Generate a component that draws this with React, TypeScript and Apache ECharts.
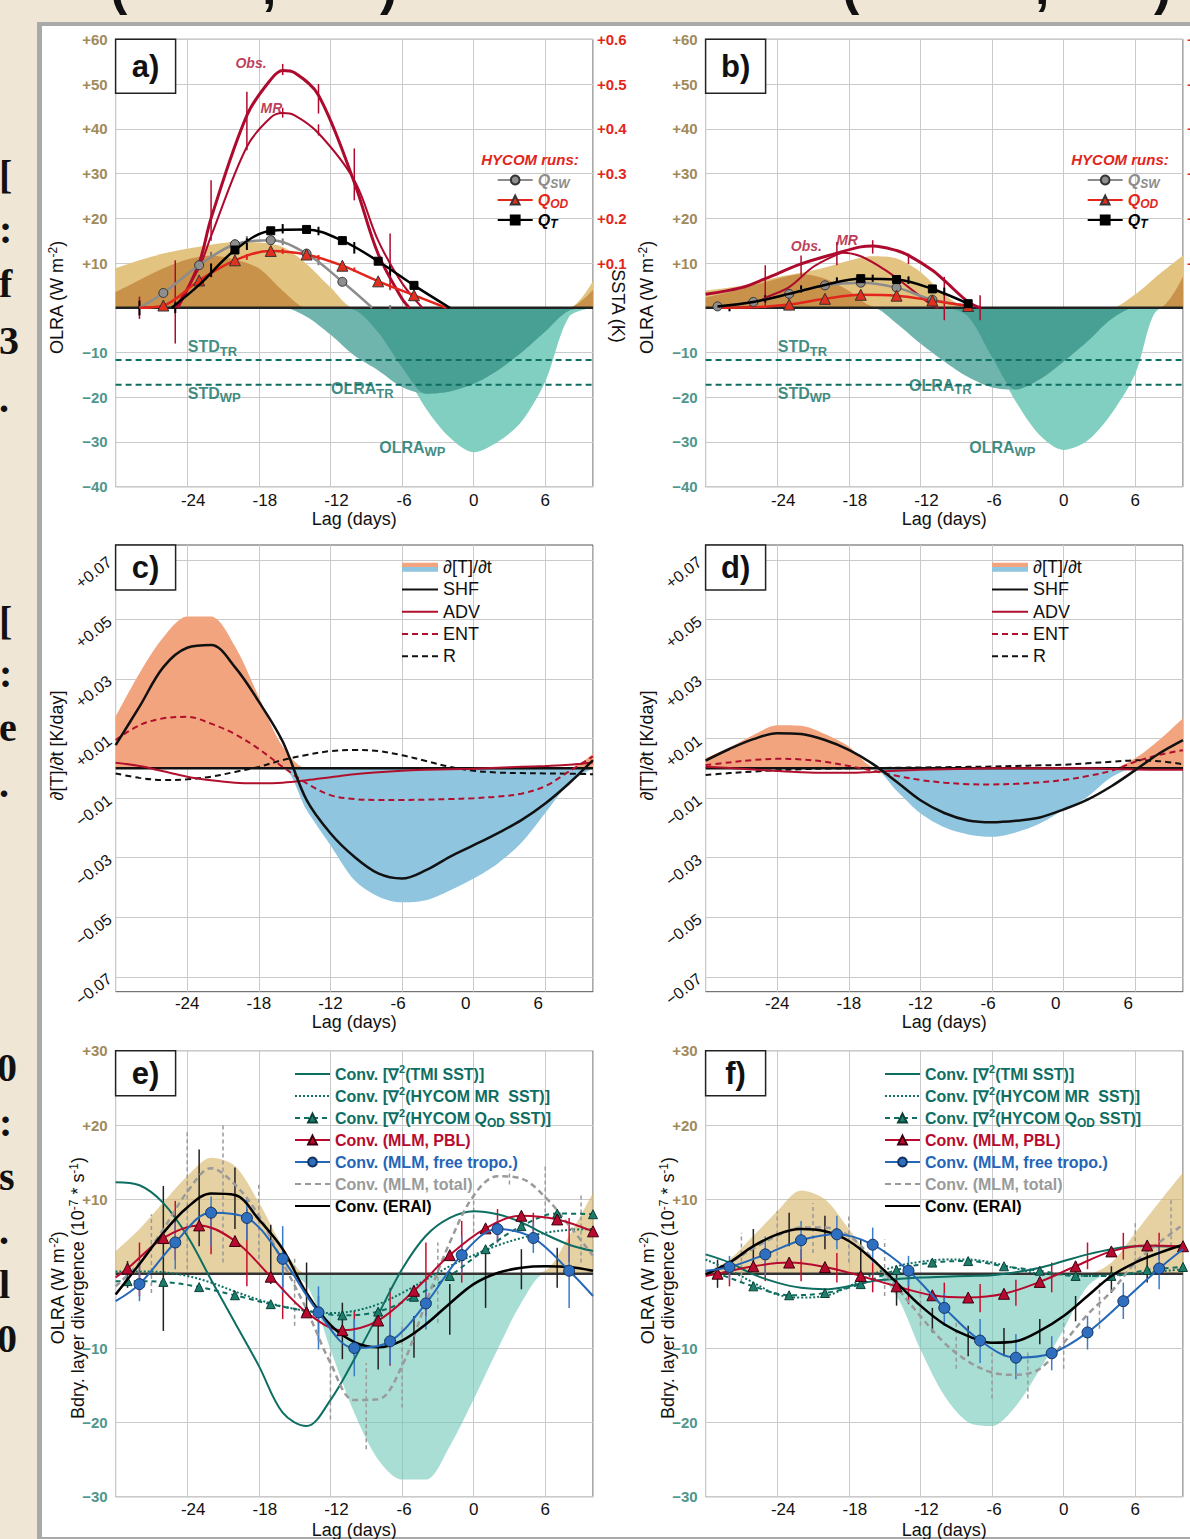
import React, { useEffect, useRef } from "react";
import * as echarts from "echarts";

const FONT = "'Liberation Sans', Arial, Helvetica, sans-serif";

// ---------- lag grids ----------
const LAG2 = [-30, -28, -26, -24, -22, -20, -18, -16, -14, -12, -10, -8, -6, -4, -2, 0, 2, 4, 6, 8, 10];
const QLAG = [-29, -26, -23, -20, -17, -14, -11, -8, -5, -2, 1, 4, 7, 10];
const TLAG = [-28, -25, -22, -19, -16, -13, -10, -7, -4, -1, 2, 5, 8];
const C_TICKS = [-0.07, -0.05, -0.03, -0.01, 0.01, 0.03, 0.05, 0.07];

// ---------- panel a ----------
const A_OLRA_WP = [8.8, 10.6, 12.1, 13.2, 14.1, 14.7, 14.6, 13.6, 9.8, 4.6, -0.5, -5.5, -13.3, -22.5, -29, -32.3, -30, -25.5, -16.5, -2, 6];
const A_OLRA_TR = [3.5, 6.2, 8.8, 10.8, 11.6, 10.8, 8.8, 3.8, -2, -6, -10.7, -14, -17.7, -19.2, -18.7, -17, -14, -10, -5.3, -0.6, 4];
const STD_LEVELS = [-11.7, -17.2];
const A_OBS = [[-24.8, 0], [-23, 0.1], [-22, 0.2], [-19, 0.43], [-17, 0.51], [-16, 0.53], [-15, 0.525], [-13, 0.475], [-10, 0.28], [-8, 0.12], [-6, 0.02], [-5.4, 0]];
const A_MR = [[-25, 0], [-23, 0.09], [-22, 0.16], [-19, 0.36], [-17, 0.425], [-16, 0.435], [-15, 0.43], [-13, 0.39], [-10, 0.285], [-8, 0.15], [-6, 0.055], [-4.3, 0]];
const A_QSW = [[-28, 0], [-26, 0.033], [-23, 0.095], [-20, 0.142], [-17, 0.151], [-14, 0.121], [-11, 0.058], [-8.5, 0]];
const A_QOD = [[-28, 0], [-26, 0.005], [-23, 0.061], [-20, 0.106], [-17, 0.127], [-14, 0.119], [-11, 0.094], [-8, 0.059], [-5, 0.028], [-2.3, 0]];
const A_QT = [[-25.3, 0], [-23, 0.051], [-20, 0.129], [-17, 0.172], [-14, 0.175], [-11, 0.15], [-8, 0.104], [-5, 0.05], [-2, 0]];
const A_ERR_OBS = [[-28, -0.025, 0.025], [-25, -0.08, 0.106], [-22, 0.15, 0.285], [-19, 0.352, 0.483], [-16, 0.52, 0.545], [-16, 0.425, 0.447], [-13, 0.434, 0.5], [-13, 0.385, 0.41], [-10, 0.24, 0.356], [-7, 0.039, 0.166]];
const A_ERR_QT = [[-28, -0.017, 0.016], [-25, -0.012, 0.012], [-22, 0.069, 0.099], [-19, 0.129, 0.155], [-16, 0.166, 0.187], [-13, 0.162, 0.181], [-10, 0.121, 0.147], [-7, 0.069, 0.099]];
const A_ERR_QOD = [[-22, 0.068, 0.082], [-19, 0.107, 0.12], [-16, 0.12, 0.132], [-13, 0.107, 0.118], [-10, 0.08, 0.09], [-7, 0.042, 0.056]];
const A_ERR_QSW = [[-22, 0.11, 0.125], [-19, 0.145, 0.16], [-16, 0.14, 0.155], [-13, 0.095, 0.11], [-7, -0.006, 0.006]];

// ---------- panel b ----------
const B_OLRA_WP = [3.8, 4.5, 5.5, 6.8, 7.8, 9, 10.5, 11.5, 11, 8, 3, -2, -11, -21, -28.5, -31.8, -29.7, -23.7, -14.8, -0.3, 7];
const B_OLRA_TR = [2.3, 3.5, 5, 6.5, 7.5, 6.5, 3.8, 0.3, -3.5, -8, -12, -15.5, -17.8, -18.3, -16, -12, -7.5, -2.5, 3, 7.5, 11.7];
const B_OBS = [[-30, 0.03], [-27, 0.045], [-25, 0.065], [-22, 0.098], [-19, 0.122], [-17, 0.136], [-16, 0.138], [-14, 0.128], [-13, 0.117], [-11, 0.084], [-10, 0.061], [-8, 0.013], [-7, 0]];
const B_MR = [[-26.5, 0], [-25, 0.022], [-23, 0.046], [-21, 0.091], [-19, 0.119], [-18.5, 0.123], [-17, 0.115], [-15, 0.085], [-13, 0.046], [-11, 0.005], [-10.5, 0]];
const B_QSW = [[-29, 0.003], [-26, 0.013], [-23, 0.031], [-20, 0.05], [-17, 0.056], [-14, 0.045], [-11, 0.018], [-8, 0.005]];
const B_QOD = [[-29, 0], [-26, 0.001], [-23, 0.007], [-20, 0.02], [-17, 0.029], [-14, 0.027], [-11, 0.016], [-8, 0.004]];
const B_QT = [[-29, 0.003], [-26, 0.013], [-23, 0.031], [-20, 0.051], [-17, 0.065], [-14, 0.063], [-11, 0.042], [-8, 0.009]];
const B_ERR_OBS = [[-25, -0.002, 0.095], [-22, 0.072, 0.117], [-19, 0.095, 0.147], [-16, 0.121, 0.151], [-13, 0.098, 0.121], [-10, -0.028, 0.069], [-7, -0.028, 0.028]];
const B_ERR_QT = [[-28, -0.008, 0.008], [-25, 0.012, 0.028], [-22, 0.034, 0.05], [-19, 0.052, 0.068], [-16, 0.058, 0.074], [-13, 0.053, 0.07], [-10, 0.028, 0.045]];

// ---------- panel c ----------
const C_DTDT = [0.0173, 0.0319, 0.044, 0.051, 0.051, 0.041, 0.024, 0.0073, -0.014, -0.0258, -0.0375, -0.043, -0.045, -0.0443, -0.041, -0.037, -0.032, -0.025, -0.015, -0.005, 0.005];
const C_SHF = [0.0078, 0.0207, 0.034, 0.0405, 0.0414, 0.034, 0.0224, 0.009, -0.0106, -0.0218, -0.0297, -0.0353, -0.037, -0.0342, -0.0297, -0.0258, -0.0218, -0.0174, -0.0118, -0.005, 0.0028];
const C_ADV = [0.0019, 0.0008, -0.001, -0.0028, -0.004, -0.0048, -0.005, -0.0048, -0.004, -0.003, -0.002, -0.0013, -0.0008, -0.0005, -0.0003, -0.0001, 0.0002, 0.0005, 0.0008, 0.0012, 0.002];
const C_ENT = [0.0095, 0.0145, 0.0168, 0.0173, 0.015, 0.0115, 0.0065, 0.0005, -0.005, -0.009, -0.0103, -0.0106, -0.0106, -0.0105, -0.0103, -0.01, -0.0095, -0.0085, -0.006, -0.001, 0.004];
const C_R = [-0.0017, -0.0032, -0.0039, -0.0037, -0.0028, -0.0012, 0.0005, 0.0028, 0.0045, 0.0058, 0.0062, 0.0058, 0.0044, 0.0025, 0.0005, -0.0008, -0.0014, -0.0016, -0.0017, -0.0018, -0.002];

// ---------- panel d ----------
const D_DTDT = [0.0034, 0.007, 0.0112, 0.0145, 0.0143, 0.0115, 0.0073, 0.0005, -0.0075, -0.0151, -0.0198, -0.0222, -0.023, -0.0215, -0.0185, -0.014, -0.0095, -0.003, 0.0034, 0.0095, 0.0168];
const D_SHF = [0.0026, 0.0065, 0.0098, 0.0118, 0.0115, 0.0095, 0.0062, 0.0015, -0.0045, -0.0107, -0.015, -0.0175, -0.0181, -0.0176, -0.0165, -0.0138, -0.0105, -0.006, -0.0006, 0.005, 0.0095];
const D_ADV = [0.0005, 0.0001, -0.0004, -0.0009, -0.0013, -0.0015, -0.0015, -0.0012, -0.0008, -0.0005, -0.0003, -0.0001, 0, 0, 0, 0, 0, -0.0002, -0.0004, -0.0005, -0.0005];
const D_ENT = [0.0011, 0.002, 0.0028, 0.0032, 0.003, 0.0022, 0.0008, -0.0008, -0.0025, -0.0039, -0.0048, -0.0053, -0.0054, -0.0052, -0.0047, -0.0039, -0.0026, -0.0008, 0.0022, 0.0045, 0.0061];
const D_R = [-0.0022, -0.0016, -0.0011, -0.0006, -0.0003, -0.0001, 0, 0.0001, 0.0002, 0.0003, 0.0004, 0.0005, 0.0006, 0.0008, 0.001, 0.0012, 0.0017, 0.0022, 0.0027, 0.0024, 0.0014];

// ---------- panel e ----------
const E_OLRA = [3.0, 6.0, 9.6, 13.1, 15.6, 14.5, 9.6, 3.7, -1.5, -10.2, -18.7, -25, -27.7, -27.7, -23.2, -16.9, -10.2, -3.9, 0.4, 5.1, 10.9];
const E_TMI = [12.3, 11.9, 9.5, 5.1, -0.8, -6.6, -12.4, -18.7, -20.5, -17.0, -11.5, -5.5, 0.6, 5.1, 7.5, 8.4, 8.0, 6.9, 5.3, 3.9, 3.05];
const E_MR = [0.3, 0.3, 0.2, -0.3, -1.2, -2.4, -3.5, -4.4, -5.0, -5.3, -5.0, -4.1, -2.6, -0.8, 1.0, 2.5, 3.8, 4.8, 5.5, 5.9, 6.0];
const E_QOD = [-1.0, -1.1, -1.8, -2.9, -4.1, -5.0, -5.6, -5.1, -3.1, -0.3, 3.3, 6.4, 8.1, 8.0];
const E_PBL = [0.7, 4.8, 6.5, 4.4, -0.4, -5.2, -7.6, -6.3, -2.3, 2.5, 6.1, 7.8, 7.3, 5.7];
const E_FT = [-1.4, 4.2, 8.2, 7.5, 2.0, -5.2, -10.0, -9.1, -4.0, 2.5, 6.0, 4.8, 0.4];
const E_TOT = [-1.7, 1.5, 6, 11, 14.2, 12, 7.8, 1.5, -4.8, -12, -17, -16.9, -12.4, -3.9, 4.2, 10.5, 13.1, 12.8, 10.3, 6.5, 2.4];
const E_ERAI = [-2.8, 1.3, 5.5, 8.9, 10.8, 10.6, 7.3, 3.3, -2.6, -6.9, -9.2, -9.9, -9.0, -6.8, -4.0, -1.4, 0.1, 0.8, 1.0, 0.9, 0.4];
const E_QOD_START = [-30, -1.0];
const E_PBL_START = [-30, -0.5];
const E_FT_ENDS = [[-30, -3.7], [10, -3.0]];
const E_ERR_ERAI = [[-29, -1.9, 1.7], [-26, -7.7, 11.8], [-23, 3.7, 16.7], [-20, 6.0, 14.3], [-17, -1.4, 6.6], [-14, -5.2, 1.5], [-11, -11.5, -3.9], [-8, -12.9, -5.2], [-5, -11.3, -5.7], [-2, -8.2, -1.4], [1, -4.6, 3.3], [4, -2.1, 3.3], [7, -1.9, 3.5]];
const E_ERR_FT = [[-28, -3.7, 1.5], [-25, 0.6, 6.9], [-22, 3.7, 10.4], [-19, 4.5, 10.0], [-16, -2.6, 6.4], [-13, -10.2, -1.7], [-10, -13.8, -6.1], [-7, -12.2, -5.9], [-4, -7.5, -1.2], [-1, 0.1, 5.1], [2, 4.2, 7.3], [5, 2.8, 6.9], [8, -4.6, 3.7]];
const E_ERR_PBL = [[-28, -3.0, 4.2], [-25, 1.9, 9.8], [-22, 2.6, 9.1], [-19, -1.7, 8.7], [-16, -6.1, 1.9], [-13, -9.0, -3.0], [-10, -11.0, -5.0], [-7, -12.4, -1.9], [-4, -5.7, 4.2], [-1, -1.2, 7.1], [2, 4.2, 8.7], [5, 4.2, 8.2], [8, 1.5, 7.5]];
const E_ERR_TOT = [[-27, -2.6, 8.0], [-24, 0.6, 19.4], [-21, 1.5, 20.1], [-18, 2.0, 12.0], [-15, -7.0, 2.0], [-12, -19.6, -10.2], [-9, -23.6, -12.0], [-6, -18.0, -6.6], [-3, -6.6, 4.2], [0, 5.5, 10.5], [3, 12.0, 14.0], [6, 7.3, 14.7], [9, 1.5, 10.9]];

// ---------- panel f ----------
const F_OLRA = [0, 1.9, 5.1, 8.4, 11.2, 10, 6, 1.9, -3, -10.2, -16.4, -20, -20.5, -17.8, -12.9, -7.5, -1.7, 1.5, 5.5, 9.6, 13.6];
const F_TMI = [2.6, 1.5, -0.1, -1.2, -1.9, -2.1, -1.7, -1.0, -0.7, -0.5, -0.4, -0.3, -0.2, 0.2, 0.8, 1.7, 2.6, 3.3, 3.7, 3.7, 3.5];
const F_MR = [1.9, 0.5, -1.2, -2.8, -3.2, -3.0, -1.7, -0.1, 1.0, 1.6, 1.9, 1.9, 1.5, 0.7, 0.0, -0.1, -0.3, -0.2, 0.0, 0.3, 0.6];
const F_QOD = [0, -1.7, -2.9, -2.6, -1.4, 0.5, 1.5, 1.7, 1.0, 0.4, -0.3, -0.3, 0.5, 0.9];
const F_PBL = [0, 1.0, 1.5, 0.9, -0.3, -1.7, -2.9, -3.2, -2.7, -1.1, 1.0, 3.0, 3.8, 3.7];
const F_FT = [0.9, 2.6, 4.5, 5.3, 3.9, 0.4, -4.6, -9.0, -11.3, -10.7, -7.9, -3.7, 0.7];
const F_TOT = [0.1, 1.5, 3.4, 5.1, 6.2, 6.2, 5.1, 2.0, -1.8, -5.7, -9.3, -11.8, -13.3, -13.6, -12.8, -9.3, -5.5, -2.4, 1.5, 4.2, 6.6];
const F_ERAI = [-0.1, 1.5, 3.7, 5.3, 6.0, 5.7, 4.4, 1.9, -1.2, -4.3, -6.8, -8.4, -9.3, -9.1, -7.7, -5.7, -3.0, -0.3, 1.5, 2.8, 3.9];
const F_QOD_START = [-30, 0.3];
const F_PBL_START = [-30, -0.3];
const F_FT_ENDS = [[-30, 0.4], [10, 3.3]];
const F_ERR_ERAI = [[-29, -1.9, 1.9], [-26, 1.0, 6.0], [-23, 3.7, 8.2], [-20, 3.3, 7.8], [-17, -1.2, 4.6], [-14, -4.3, 0.1], [-11, -7.9, -4.6], [-8, -11.1, -7.0], [-5, -11.1, -7.3], [-2, -9.5, -6.1], [1, -6.4, -3.0], [4, -2.6, 1.0], [7, -1.2, 4.2]];
const F_ERR_FT = [[-28, -0.8, 2.4], [-25, -0.3, 5.0], [-22, 1.9, 7.1], [-19, 3.3, 7.8], [-16, 1.5, 6.2], [-13, -1.7, 2.4], [-10, -7.0, -2.6], [-7, -12.0, -6.1], [-4, -14.2, -8.1], [-1, -13.0, -8.4], [2, -10.2, -5.7], [5, -6.1, -1.2], [8, -2.1, 3.7]];
const F_ERR_PBL = [[-28, -1.7, 1.5], [-25, -1.0, 2.8], [-22, -1.0, 3.3], [-19, -1.2, 2.8], [-16, -2.5, 1.5], [-13, -4.1, -0.3], [-10, -5.2, -1.2], [-7, -5.2, -1.4], [-4, -4.3, -0.8], [-1, -2.5, 1.5], [2, 0.6, 4.2], [5, 1.9, 5.5], [8, 1.9, 5.5]];
const F_ERR_TOT = [[-27, -1.2, 5.5], [-24, 1.5, 8.4], [-21, 2.8, 9.5], [-18, 1.5, 8.0], [-15, -3.0, 4.6], [-12, -7.0, -2.1], [-9, -12.8, -6.1], [-6, -16.8, -10.5], [-3, -16.8, -10.5], [0, -12.8, -6.1], [3, -7.4, -1.2], [6, 0.6, 6.9], [9, 3.7, 10.0]];

// ---------- colours ----------
const TAN_L = "#e3c380";
const TAN_D = "#c9924a";
const TEAL_L = "#80cfc0";
const TEAL_M = "#6fb5ad";
const TEAL_D = "#48a095";
const TEAL = "#0e6e62";
const TEAL_MK = "#1d7d6c";
const CRIMSON = "#ad0a2e";
const RED = "#e2261c";
const BLUE = "#2467b8";
const GRAYL = "#8c8c8c";
const ORANGE = "#f2a47f";
const SKY = "#8fc5df";
const POS_LBL = "#a08a5a";
const NEG_LBL = "#4f968c";

const zip = (xs: number[], ys: number[]) => xs.map((x, i) => [x, ys[i]]);
const pos = (v: number) => Math.max(v, 0);
const neg = (v: number) => Math.min(v, 0);

function area(xi: number, yi: number, data: any[], color: string, z = 1) {
  return {
    type: "line", xAxisIndex: xi, yAxisIndex: yi, data, smooth: 0.3, symbol: "none",
    showSymbol: false, silent: true, z, lineStyle: { width: 0, opacity: 0 },
    areaStyle: { color, opacity: 1 }, emphasis: { disabled: true },
  };
}

function line(o: any) {
  return {
    name: o.name, type: "line", xAxisIndex: o.xi, yAxisIndex: o.yi, data: o.data,
    smooth: o.smooth ?? 0.35, symbol: o.symbol || "none", symbolSize: o.size || 9,
    showAllSymbol: true, silent: true, z: o.z ?? 4, emphasis: { disabled: true },
    lineStyle: { color: o.color, width: o.width, type: o.dash || "solid" },
    itemStyle: { color: o.fill || o.color, borderColor: o.border || o.color, borderWidth: o.border ? 1 : 0 },
  };
}

function hideEnds(pairs: number[][], idx: number[]) {
  return pairs.map((p, i) => (idx.includes(i) ? { value: p, symbol: "none" } : p));
}

function errBars(xi: number, yi: number, data: number[][], color: string, width = 1.5, dash?: number[]) {
  return {
    type: "custom", xAxisIndex: xi, yAxisIndex: yi, data, silent: true, z: 3,
    encode: { x: 0, y: [1, 2] },
    renderItem: (_p: any, api: any) => {
      const a = api.coord([api.value(0), api.value(1)]);
      const b = api.coord([api.value(0), api.value(2)]);
      return {
        type: "line", shape: { x1: a[0], y1: a[1], x2: b[0], y2: b[1] },
        style: { stroke: color, lineWidth: width, lineDash: dash || null },
      };
    },
  };
}

function hline(xi: number, yi: number, y: number, color: string, width: number, dash: any = "solid", z = 2) {
  return line({ xi, yi, data: [[-30, y], [10, y]], color, width, dash, smooth: false, z });
}

function notes(xi: number, yi: number, items: any[]) {
  return {
    type: "scatter", xAxisIndex: xi, yAxisIndex: yi, symbolSize: 1, silent: true, z: 8,
    itemStyle: { color: "rgba(0,0,0,0)" },
    data: items.map((it) => ({
      value: [it.x, it.y],
      label: { show: true, position: "right", distance: 0, formatter: it.text, rich: it.rich },
    })),
  };
}

const tealRich = {
  m: { fontFamily: FONT, fontSize: 16, fontWeight: "bold", color: TEAL, lineHeight: 22, verticalAlign: "middle" },
  s: { fontFamily: FONT, fontSize: 13, fontWeight: "bold", color: TEAL, lineHeight: 22, verticalAlign: "bottom" },
};
const crimRich = {
  m: { fontFamily: FONT, fontSize: 14, fontWeight: "bold", fontStyle: "italic", color: CRIMSON, lineHeight: 18 },
};

function panelAB(xi: number, yiL: number, yiR: number, sfx: string, d: any) {
  const s: any[] = [];
  s.push(area(xi, yiL, zip(LAG2, d.wp.map(pos)), TAN_L));
  s.push(area(xi, yiL, zip(LAG2, d.tr.map(pos)), TAN_L));
  s.push(area(xi, yiL, zip(LAG2, d.wp.map((v: number, i: number) => Math.min(pos(v), pos(d.tr[i])))), TAN_D));
  s.push(area(xi, yiL, zip(LAG2, d.wp.map(neg)), TEAL_L));
  s.push(area(xi, yiL, zip(LAG2, d.tr.map(neg)), TEAL_M));
  s.push(area(xi, yiL, zip(LAG2, d.wp.map((v: number, i: number) => Math.max(neg(v), neg(d.tr[i])))), TEAL_D));
  s.push(hline(xi, yiL, 0, "#222", 2.5));
  STD_LEVELS.forEach((v) => s.push(hline(xi, yiL, v, TEAL, 2, [6, 4], 5)));
  s.push(notes(xi, yiL, [
    { x: -24, y: -8.7, text: "{m|STD}{s|TR}", rich: tealRich },
    { x: -24, y: -19.1, text: "{m|STD}{s|WP}", rich: tealRich },
    { x: d.olraTr[0], y: d.olraTr[1], text: "{m|OLRA}{s|TR}", rich: tealRich },
    { x: -7.95, y: -31.2, text: "{m|OLRA}{s|WP}", rich: tealRich },
  ]));
  s.push(line({ xi, yi: yiR, data: d.obs, color: CRIMSON, width: 3, z: 5 }));
  s.push(line({ xi, yi: yiR, data: d.mr, color: CRIMSON, width: 2, z: 5 }));
  s.push(errBars(xi, yiR, d.errObs, CRIMSON, 1.5));
  s.push(line({ name: "QSW" + sfx, xi, yi: yiR, data: d.qsw, color: GRAYL, width: 2.5, symbol: "circle", size: 9, fill: "#8e8e8e", border: "#333", z: 6 }));
  s.push(line({ name: "QOD" + sfx, xi, yi: yiR, data: d.qod, color: RED, width: 2.5, symbol: "triangle", size: 11, fill: "#e2301e", border: "#333", z: 6 }));
  s.push(line({ name: "QT" + sfx, xi, yi: yiR, data: d.qt, color: "#000", width: 2.5, symbol: "rect", size: 8, fill: "#000", border: "#000", z: 7 }));
  d.errs.forEach((e: any) => s.push(errBars(xi, yiR, e[0], e[1], 2)));
  s.push(notes(xi, yiR, [
    { x: d.obsLbl[0], y: d.obsLbl[1], text: "{m|Obs.}", rich: crimRich },
    { x: d.mrLbl[0], y: d.mrLbl[1], text: "{m|MR}", rich: crimRich },
  ]));
  return s;
}

function panelCD(xi: number, yi: number, sfx: string, d: any) {
  const s: any[] = [];
  const p = area(xi, yi, zip(LAG2, d.f.map(pos)), ORANGE) as any;
  p.name = "dTdt" + sfx;
  s.push(p);
  s.push(area(xi, yi, zip(LAG2, d.f.map(neg)), SKY));
  s.push(hline(xi, yi, 0, "#111", 2.5));
  s.push(line({ name: "R" + sfx, xi, yi, data: zip(LAG2, d.r), color: "#111", width: 2, dash: [6, 4] }));
  s.push(line({ name: "ENT" + sfx, xi, yi, data: zip(LAG2, d.ent), color: "#b0102c", width: 2, dash: [6, 4] }));
  s.push(line({ name: "ADV" + sfx, xi, yi, data: zip(LAG2, d.adv), color: "#b0102c", width: 2 }));
  s.push(line({ name: "SHF" + sfx, xi, yi, data: zip(LAG2, d.shf), color: "#111", width: 2.5, z: 5 }));
  return s;
}

function panelEF(xi: number, yi: number, sfx: string, d: any) {
  const s: any[] = [];
  s.push(area(xi, yi, zip(LAG2, d.olra.map(pos)), "rgba(214,178,100,0.6)"));
  s.push(area(xi, yi, zip(LAG2, d.olra.map(neg)), "rgba(110,200,184,0.6)"));
  s.push(hline(xi, yi, 0, "#333", 2.5));
  s.push(errBars(xi, yi, d.eTot, "#9a9a9a", 1.5, [4, 3]));
  s.push(line({ name: "MR" + sfx, xi, yi, data: zip(LAG2, d.mr), color: TEAL, width: 2, dash: "dotted" }));
  s.push(line({ name: "QOD" + sfx, xi, yi, data: [{ value: d.qodStart, symbol: "none" }, ...zip(QLAG, d.qod)], color: TEAL, width: 2, dash: [5, 4], symbol: "triangle", size: 9, fill: TEAL_MK, border: "#0b3f36" }));
  s.push(line({ name: "TMI" + sfx, xi, yi, data: zip(LAG2, d.tmi), color: TEAL, width: 2 }));
  s.push(line({ name: "TOT" + sfx, xi, yi, data: zip(LAG2, d.tot), color: "#9a9a9a", width: 2.5, dash: [6, 4] }));
  s.push(errBars(xi, yi, d.ePbl, "#c8102e", 1.5));
  s.push(line({ name: "PBL" + sfx, xi, yi, data: [{ value: d.pblStart, symbol: "none" }, ...zip(QLAG, d.pbl)], color: "#b80a2e", width: 2, symbol: "triangle", size: 11, fill: "#b80a2e", border: "#3a0010", z: 5 }));
  s.push(errBars(xi, yi, d.eFt, "#3a7cc8", 1.5));
  s.push(line({ name: "FT" + sfx, xi, yi, data: [{ value: d.ftEnds[0], symbol: "none" }, ...zip(TLAG, d.ft), { value: d.ftEnds[1], symbol: "none" }], color: BLUE, width: 2, symbol: "circle", size: 11, fill: "#2f6fc0", border: "#15325e", z: 6 }));
  s.push(errBars(xi, yi, d.eErai, "#222", 1.5));
  s.push(line({ name: "ERAI" + sfx, xi, yi, data: zip(LAG2, d.erai), color: "#000", width: 2.5, z: 5 }));
  return s;
}

// label nudges (style only): rich tokens with padding
const xLblBase = { fontFamily: FONT, fontSize: 17, color: "#111" };
const xLblRich = {
  r6: { ...xLblBase, padding: [0, 0, 0, 12] },
  r2: { ...xLblBase, padding: [0, 0, 0, 4] },
  c0: { ...xLblBase },
  l4: { ...xLblBase, padding: [0, 8, 0, 0] },
  l8: { ...xLblBase, padding: [0, 16, 0, 0] },
  l7: { ...xLblBase, padding: [0, 14, 0, 0] },
};
const NUDGE_TOP: any = { "-24": "r6", "-18": "r6", "-12": "r6", "-6": "r2", "0": "c0", "6": "c0" };
const NUDGE_MID: any = { "-24": "c0", "-18": "c0", "-12": "c0", "-6": "l4", "0": "l8", "6": "l7" };

const xAxis = (gi: number, nameGap: number, margin: number, nudge: any) => ({
  type: "value", gridIndex: gi, min: -30, max: 10, interval: 6,
  name: "Lag (days)", nameLocation: "middle", nameGap,
  nameTextStyle: { fontFamily: FONT, fontSize: 18, color: "#111" },
  axisLine: { show: false }, axisTick: { show: false },
  axisLabel: {
    margin, fontFamily: FONT, fontSize: 17, color: "#111", rich: xLblRich,
    formatter: (v: number) => (v <= -30 || v > 6 ? "" : `{${nudge[String(v)] || "c0"}|${v}}`),
  },
  splitLine: { lineStyle: { color: "#cacaca", width: 1 } },
});

const olraFmt = (v: number) => (v > 0 ? `{p|+${v}}` : v < 0 ? `{n|\u2212${-v}}` : "");
const olraRich = {
  p: { color: POS_LBL, fontWeight: "bold", fontSize: 15, fontFamily: FONT },
  n: { color: NEG_LBL, fontWeight: "bold", fontSize: 15, fontFamily: FONT },
};
const yOlra = (gi: number, min: number, max: number) => ({
  type: "value", gridIndex: gi, min, max, interval: 10, position: "left",
  axisLine: { show: false }, axisTick: { show: false },
  axisLabel: { margin: 8, formatter: olraFmt, rich: olraRich },
  splitLine: { lineStyle: { color: "#cacaca", width: 1 } },
});
const ySsta = (gi: number) => ({
  type: "value", gridIndex: gi, min: -0.4, max: 0.6, interval: 0.1, position: "right",
  axisLine: { show: false }, axisTick: { show: false }, splitLine: { show: false },
  axisLabel: {
    margin: 4, color: RED, fontWeight: "bold", fontSize: 15, fontFamily: FONT,
    formatter: (v: number) => (v > 0.001 ? "+" + v.toFixed(1) : ""),
  },
});
const yRate = (gi: number) => ({
  type: "value", gridIndex: gi, min: -0.075, max: 0.075,
  axisLine: { show: false }, axisTick: { show: false, customValues: C_TICKS },
  axisLabel: {
    customValues: C_TICKS, rotate: 38, margin: 6, fontFamily: FONT, fontSize: 16, color: "#111",
    formatter: (v: number) => (v > 0 ? "+" : "\u2212") + Math.abs(v).toFixed(2),
  },
  splitLine: { lineStyle: { color: "#cacaca", width: 1 } },
});

const HY_LBL: any = { QSW: "{q|Q}{s|SW}", QOD: "{q|Q}{s|OD}", QT: "{q|Q}{s|T}" };
const CD_LBL: any = { dTdt: "\u2202[T]/\u2202t", SHF: "SHF", ADV: "ADV", ENT: "ENT", R: "R" };
const EF_LBL: any = {
  TMI: "Conv. [\u2207{p|2}(TMI SST)]",
  MR: "Conv. [\u2207{p|2}(HYCOM MR  SST)]",
  QOD: "Conv. [\u2207{p|2}(HYCOM Q{b|OD} SST)]",
  PBL: "Conv. (MLM, PBL)",
  FT: "Conv. (MLM, free tropo.)",
  TOT: "Conv. (MLM, total)",
  ERAI: "Conv. (ERAI)",
};
const base = (n: string) => n.split("\u00b7")[0];

function legendHY(left: number, sfx: string) {
  return {
    orient: "vertical", left, top: 165, itemWidth: 35, itemHeight: 11, itemGap: 0, selectedMode: false,
    data: [
      { name: "QSW" + sfx, textStyle: { color: "#8c8c8c" } },
      { name: "QOD" + sfx, textStyle: { color: RED } },
      { name: "QT" + sfx, textStyle: { color: "#000" } },
    ],
    formatter: (n: string) => HY_LBL[base(n)],
    textStyle: {
      fontFamily: FONT, fontSize: 16, fontWeight: "bold", fontStyle: "italic", lineHeight: 20,
      rich: {
        q: { fontFamily: FONT, fontSize: 16, fontWeight: "bold", fontStyle: "italic", lineHeight: 20, verticalAlign: "middle" },
        s: { fontFamily: FONT, fontSize: 12, fontWeight: "bold", fontStyle: "italic", lineHeight: 20, verticalAlign: "bottom" },
      },
    },
  };
}

function legendCD(left: number, sfx: string) {
  const grad = new echarts.graphic.LinearGradient(0, 0, 0, 1, [
    { offset: 0, color: ORANGE }, { offset: 0.5, color: ORANGE },
    { offset: 0.5, color: SKY }, { offset: 1, color: SKY },
  ]);
  return {
    orient: "vertical", left, top: 551, itemWidth: 36, itemHeight: 9, itemGap: 0, selectedMode: false,
    itemStyle: { opacity: 0 },
    data: [
      { name: "dTdt" + sfx, icon: "rect", itemStyle: { color: grad, opacity: 1 } },
      { name: "SHF" + sfx }, { name: "ADV" + sfx }, { name: "ENT" + sfx }, { name: "R" + sfx },
    ],
    formatter: (n: string) => CD_LBL[base(n)],
    textStyle: { fontFamily: FONT, fontSize: 18, color: "#111", lineHeight: 22.3 },
  };
}

function legendEF(left: number, sfx: string) {
  const tc = { color: TEAL };
  const on = { opacity: 1 };
  return {
    orient: "vertical", left, top: 1058, itemWidth: 35, itemHeight: 11, itemGap: 0, selectedMode: false,
    itemStyle: { opacity: 0 },
    data: [
      { name: "TMI" + sfx, textStyle: tc }, { name: "MR" + sfx, textStyle: tc },
      { name: "QOD" + sfx, textStyle: tc, itemStyle: on },
      { name: "PBL" + sfx, textStyle: { color: "#b80a2e" }, itemStyle: on },
      { name: "FT" + sfx, textStyle: { color: "#2465b8" }, itemStyle: on },
      { name: "TOT" + sfx, textStyle: { color: "#9a9a9a" } }, { name: "ERAI" + sfx, textStyle: { color: "#000" } },
    ],
    formatter: (n: string) => EF_LBL[base(n)],
    textStyle: {
      fontFamily: FONT, fontSize: 16, fontWeight: "bold", lineHeight: 22,
      rich: {
        p: { fontFamily: FONT, fontSize: 11, fontWeight: "bold", lineHeight: 22, verticalAlign: "top" },
        b: { fontFamily: FONT, fontSize: 12, fontWeight: "bold", lineHeight: 22, verticalAlign: "bottom" },
      },
    },
  };
}

function vText(x: number, y: number, text: string, rot: number, rich?: any) {
  return {
    type: "text", x, y, rotation: rot, silent: true, z: 50,
    style: {
      text, fontFamily: FONT, fontSize: 18, fill: "#111", align: "center", verticalAlign: "middle",
      rich: rich || { u: { fontFamily: FONT, fontSize: 12, fill: "#111", verticalAlign: "top", lineHeight: 20 } },
    },
  };
}

function box(x: number, y: number, h: number, label: string) {
  return [
    { type: "rect", shape: { x, y, width: 60, height: h }, style: { fill: "#fff", stroke: "#222", lineWidth: 1.5 }, z: 60, silent: true },
    { type: "text", x: x + 30, y: y + h / 2, z: 61, silent: true, style: { text: label, fontFamily: FONT, fontSize: 31, fontWeight: "bold", fill: "#111", align: "center", verticalAlign: "middle" } },
  ];
}

function glyph(x: number, y: number, t: string, size = 40, serif = true) {
  return {
    type: "text", x, y, silent: true, z: 0,
    style: {
      text: t, fontFamily: serif ? "'Liberation Serif', 'DejaVu Serif', serif" : FONT,
      fontSize: size, fontWeight: "bold", fill: "#111", align: "left", verticalAlign: "middle",
    },
  };
}

export default function App() {
  const ref = useRef<HTMLDivElement>(null);
  useEffect(() => {
    if (!ref.current) return;
    const chart = echarts.init(ref.current, null, { renderer: "svg" });
    const grids = [
      { left: 115.6, top: 39.3, width: 477.4, height: 447.4 },
      { left: 705.6, top: 39.3, width: 477.4, height: 447.4 },
      { left: 115.6, top: 545, width: 477.4, height: 446.7 },
      { left: 705.6, top: 545, width: 477.4, height: 446.7 },
      { left: 115.6, top: 1050.7, width: 477.4, height: 446 },
      { left: 705.6, top: 1050.7, width: 477.4, height: 446 },
    ].map((g) => ({ ...g, show: true, borderColor: "#555", borderWidth: 1, backgroundColor: "transparent", containLabel: false, outerBoundsMode: "none" }));

    const series: any[] = [
      ...panelAB(0, 0, 1, "\u00b7a", {
        wp: A_OLRA_WP, tr: A_OLRA_TR, olraTr: [-12, -18.1],
        obs: A_OBS, mr: A_MR, errObs: A_ERR_OBS,
        qsw: hideEnds(A_QSW, [0, A_QSW.length - 1]),
        qod: hideEnds(A_QOD, [0, A_QOD.length - 1]),
        qt: hideEnds(A_QT, [0, 1, A_QT.length - 1]),
        errs: [[A_ERR_QSW, "#777"], [A_ERR_QOD, RED], [A_ERR_QT, "#000"]],
        obsLbl: [-20, 0.546], mrLbl: [-17.9, 0.446],
      }),
      ...panelAB(1, 2, 3, "\u00b7b", {
        wp: B_OLRA_WP, tr: B_OLRA_TR, olraTr: [-13, -17.3],
        obs: B_OBS, mr: B_MR, errObs: B_ERR_OBS,
        qsw: hideEnds(B_QSW, [B_QSW.length - 1]),
        qod: hideEnds(B_QOD, [0, 1]),
        qt: hideEnds(B_QT, [0, 1, 2, 3]),
        errs: [[B_ERR_QT, "#000"]],
        obsLbl: [-22.9, 0.138], mrLbl: [-19.1, 0.151],
      }),
      ...panelCD(2, 4, "\u00b7c", { f: C_DTDT, shf: C_SHF, adv: C_ADV, ent: C_ENT, r: C_R }),
      ...panelCD(3, 5, "\u00b7d", { f: D_DTDT, shf: D_SHF, adv: D_ADV, ent: D_ENT, r: D_R }),
      ...panelEF(4, 6, "\u00b7e", {
        olra: E_OLRA, tmi: E_TMI, mr: E_MR, qod: E_QOD, pbl: E_PBL, ft: E_FT, tot: E_TOT, erai: E_ERAI,
        qodStart: E_QOD_START, pblStart: E_PBL_START, ftEnds: E_FT_ENDS,
        eErai: E_ERR_ERAI, eFt: E_ERR_FT, ePbl: E_ERR_PBL, eTot: E_ERR_TOT,
      }),
      ...panelEF(5, 7, "\u00b7f", {
        olra: F_OLRA, tmi: F_TMI, mr: F_MR, qod: F_QOD, pbl: F_PBL, ft: F_FT, tot: F_TOT, erai: F_ERAI,
        qodStart: F_QOD_START, pblStart: F_PBL_START, ftEnds: F_FT_ENDS,
        eErai: F_ERR_ERAI, eFt: F_ERR_FT, ePbl: F_ERR_PBL, eTot: F_ERR_TOT,
      }),
    ];

    const uRich = { u: { fontFamily: FONT, fontSize: 12, fill: "#111", verticalAlign: "top", lineHeight: 20 } };
    const graphic: any[] = [
      ...box(115.6, 39.3, 54, "a)"), ...box(705.6, 39.3, 54, "b)"),
      ...box(115.6, 545, 45, "c)"), ...box(705.6, 545, 45, "d)"),
      ...box(115.6, 1050.7, 45, "e)"), ...box(705.6, 1050.7, 45, "f)"),
      vText(57.4, 297.6, "OLRA (W m{u|-2})", Math.PI / 2, uRich),
      vText(647.4, 297.6, "OLRA (W m{u|-2})", Math.PI / 2, uRich),
      vText(618, 306, "SSTA (K)", -Math.PI / 2),
      vText(56.5, 745.5, "\u2202[T]/\u2202t [K/day]", Math.PI / 2),
      vText(646.5, 745.5, "\u2202[T]/\u2202t [K/day]", Math.PI / 2),
      vText(58, 1288, "OLRA (W m{u|-2})", Math.PI / 2, uRich),
      vText(77.5, 1288, "Bdry. layer divergence (10{u|-7} * s{u|-1})", Math.PI / 2, uRich),
      vText(648, 1288, "OLRA (W m{u|-2})", Math.PI / 2, uRich),
      vText(667.5, 1288, "Bdry. layer divergence (10{u|-7} * s{u|-1})", Math.PI / 2, uRich),
      { type: "text", x: 530, y: 159, z: 50, silent: true, style: { text: "HYCOM runs:", fontFamily: FONT, fontSize: 15, fontWeight: "bold", fontStyle: "italic", fill: RED, align: "center", verticalAlign: "middle" } },
      { type: "text", x: 1120, y: 159, z: 50, silent: true, style: { text: "HYCOM runs:", fontFamily: FONT, fontSize: 15, fontWeight: "bold", fontStyle: "italic", fill: RED, align: "center", verticalAlign: "middle" } },
      glyph(-1, 174, "["), glyph(-1, 229, ":"), glyph(-1, 283, "f"), glyph(-1, 340, "3"), glyph(-1, 398, "."),
      glyph(-1, 620, "["), glyph(-1, 673, ":"), glyph(-1, 727, "e"), glyph(-1, 783, "."),
      glyph(-3, 1067, "0"), glyph(-1, 1122, ":"), glyph(-1, 1176, "s"), glyph(-1, 1230, "."), glyph(-1, 1284, "l"), glyph(-3, 1338, "0"),
      glyph(110, -14, "(", 52, false), glyph(262, -14, ",", 52, false), glyph(380, -14, ")", 52, false),
      glyph(842, -14, "(", 52, false), glyph(1035, -14, ",", 52, false), glyph(1154, -14, ")", 52, false),
    ];

    chart.setOption({
      animation: false,
      backgroundColor: "transparent",
      textStyle: { fontFamily: FONT },
      grid: grids,
      xAxis: [
        xAxis(0, 23, 5, NUDGE_TOP), xAxis(1, 23, 5, NUDGE_TOP),
        xAxis(2, 8, 3, NUDGE_MID), xAxis(3, 8, 3, NUDGE_MID),
        xAxis(4, 24, 4, NUDGE_TOP), xAxis(5, 24, 4, NUDGE_TOP),
      ],
      yAxis: [yOlra(0, -40, 60), ySsta(0), yOlra(1, -40, 60), ySsta(1), yRate(2), yRate(3), yOlra(4, -30, 30), yOlra(5, -30, 30)],
      legend: [
        legendHY(491.7, "\u00b7a"), legendHY(1081.7, "\u00b7b"),
        legendCD(396, "\u00b7c"), legendCD(986, "\u00b7d"),
        legendEF(289, "\u00b7e"), legendEF(879, "\u00b7f"),
      ],
      graphic,
      series,
    });
    return () => chart.dispose();
  }, []);

  return (
    <div style={{ position: "absolute", left: 0, top: 0, width: 1190, height: 1539, background: "#efe6d5", overflow: "hidden" }}>
      <div style={{ position: "absolute", left: 37, top: 21.7, width: 1170, height: 1530, background: "#a9a9a9" }} />
      <div style={{ position: "absolute", left: 41.5, top: 26, width: 1160, height: 1510.5, background: "#ffffff" }} />
      <div ref={ref} style={{ position: "absolute", left: 0, top: 0, width: 1190, height: 1539 }} />
    </div>
  );
}
